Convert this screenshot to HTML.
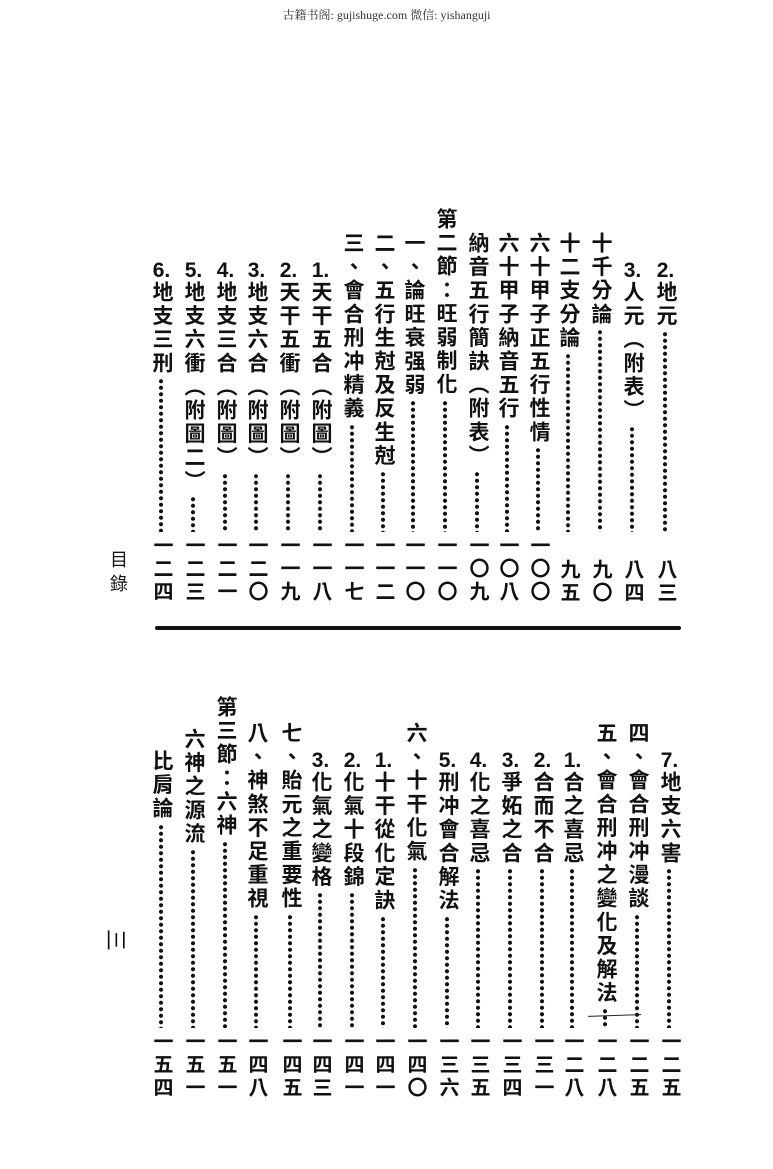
<!DOCTYPE html>
<html><head><meta charset="utf-8">
<style>
html,body{margin:0;padding:0;background:#fff;}
body{width:773px;height:1169px;position:relative;overflow:hidden;font-family:"Liberation Sans","Noto Sans CJK TC","Noto Sans CJK SC",sans-serif;color:#111;}
.hdr{position:absolute;top:6px;left:0;width:773px;text-align:center;font-size:12px;color:#333;font-family:"Liberation Serif","Noto Serif CJK SC",serif;}
.c{position:absolute;width:26px;margin-left:-13px;display:flex;flex-direction:column;align-items:center;}
.t{writing-mode:vertical-rl;font-size:21px;line-height:26px;letter-spacing:2.6px;font-weight:bold;white-space:nowrap;}
.u{text-combine-upright:all;}
.d{flex:1;width:6px;margin-top:3px;background:radial-gradient(circle,#111 1.8px,transparent 2.3px) center top/6px 6.5px repeat-y;}
.n{position:absolute;writing-mode:vertical-rl;font-size:20px;line-height:26px;letter-spacing:3px;width:26px;margin-left:-13px;font-weight:bold;}
</style></head><body>
<div class="hdr">古籍书阁: gujishuge.com 微信: yishanguji</div>

<!-- upper block -->
<div class="c" style="left:665px;top:260px;height:272px"><div class="t"><span class="u">2.</span>地元</div><div class="d"></div></div>
<div class="n" style="left:665px;top:559px">八三</div>
<div class="c" style="left:632px;top:260px;height:272px"><div class="t"><span class="u">3.</span>人元（附表）</div><div class="d"></div></div>
<div class="n" style="left:632px;top:559px">八四</div>
<div class="c" style="left:600px;top:232px;height:300px"><div class="t">十千分論</div><div class="d"></div></div>
<div class="n" style="left:600px;top:559px">九〇</div>
<div class="c" style="left:568px;top:232px;height:300px"><div class="t">十二支分論</div><div class="d"></div></div>
<div class="n" style="left:568px;top:559px">九五</div>
<div class="c" style="left:538px;top:232px;height:300px"><div class="t">六十甲子正五行性情</div><div class="d"></div></div>
<div class="n" style="left:538px;top:535px">一〇〇</div>
<div class="c" style="left:507px;top:232px;height:300px"><div class="t">六十甲子納音五行</div><div class="d"></div></div>
<div class="n" style="left:507px;top:535px">一〇八</div>
<div class="c" style="left:477px;top:232px;height:300px"><div class="t">納音五行簡訣（附表）</div><div class="d"></div></div>
<div class="n" style="left:477px;top:535px">一〇九</div>
<div class="c" style="left:445px;top:208px;height:324px"><div class="t">第二節：旺弱制化</div><div class="d"></div></div>
<div class="n" style="left:445px;top:535px">一一〇</div>
<div class="c" style="left:413px;top:232px;height:300px"><div class="t">一、論旺衰强弱</div><div class="d"></div></div>
<div class="n" style="left:413px;top:535px">一一〇</div>
<div class="c" style="left:383px;top:232px;height:300px"><div class="t">二、五行生尅及反生尅</div><div class="d"></div></div>
<div class="n" style="left:383px;top:535px">一一二</div>
<div class="c" style="left:352px;top:232px;height:300px"><div class="t">三、會合刑冲精義</div><div class="d"></div></div>
<div class="n" style="left:352px;top:535px">一一七</div>
<div class="c" style="left:320px;top:260px;height:272px"><div class="t"><span class="u">1.</span>天干五合（附圖）</div><div class="d"></div></div>
<div class="n" style="left:320px;top:535px">一一八</div>
<div class="c" style="left:288px;top:260px;height:272px"><div class="t"><span class="u">2.</span>天干五衝（附圖）</div><div class="d"></div></div>
<div class="n" style="left:288px;top:535px">一一九</div>
<div class="c" style="left:256px;top:260px;height:272px"><div class="t"><span class="u">3.</span>地支六合（附圖）</div><div class="d"></div></div>
<div class="n" style="left:256px;top:535px">一二〇</div>
<div class="c" style="left:225px;top:260px;height:272px"><div class="t"><span class="u">4.</span>地支三合（附圖）</div><div class="d"></div></div>
<div class="n" style="left:225px;top:535px">一二一</div>
<div class="c" style="left:193px;top:260px;height:272px"><div class="t"><span class="u">5.</span>地支六衝（附圖二）</div><div class="d"></div></div>
<div class="n" style="left:193px;top:535px">一二三</div>
<div class="c" style="left:161px;top:260px;height:272px"><div class="t"><span class="u">6.</span>地支三刑</div><div class="d"></div></div>
<div class="n" style="left:161px;top:535px">一二四</div>

<div style="position:absolute;left:106px;top:550px;writing-mode:vertical-rl;font-size:18px;line-height:24px;letter-spacing:6px;">目錄</div>
<div style="position:absolute;left:155px;top:626px;width:526px;height:4px;background:#111;border-radius:2px;"></div>

<!-- lower block -->
<div class="c" style="left:669px;top:750px;height:278px"><div class="t"><span class="u">7.</span>地支六害</div><div class="d"></div></div>
<div class="n" style="left:669px;top:1031px">一二五</div>
<div class="c" style="left:637px;top:722px;height:306px"><div class="t">四、會合刑冲漫談</div><div class="d"></div></div>
<div class="n" style="left:637px;top:1031px">一二五</div>
<div class="c" style="left:605px;top:722px;height:306px"><div class="t">五、會合刑冲之變化及解法</div><div class="d"></div></div>
<div class="n" style="left:605px;top:1031px">一二八</div>
<div style="position:absolute;left:588px;top:1015px;width:53px;height:1px;background:#222;transform:rotate(-2deg);"></div>
<div class="c" style="left:572px;top:750px;height:278px"><div class="t"><span class="u">1.</span>合之喜忌</div><div class="d"></div></div>
<div class="n" style="left:572px;top:1031px">一二八</div>
<div class="c" style="left:542px;top:750px;height:278px"><div class="t"><span class="u">2.</span>合而不合</div><div class="d"></div></div>
<div class="n" style="left:542px;top:1031px">一三一</div>
<div class="c" style="left:510px;top:750px;height:278px"><div class="t"><span class="u">3.</span>爭妬之合</div><div class="d"></div></div>
<div class="n" style="left:510px;top:1031px">一三四</div>
<div class="c" style="left:478px;top:750px;height:278px"><div class="t"><span class="u">4.</span>化之喜忌</div><div class="d"></div></div>
<div class="n" style="left:478px;top:1031px">一三五</div>
<div class="c" style="left:447px;top:750px;height:278px"><div class="t"><span class="u">5.</span>刑冲會合解法</div><div class="d"></div></div>
<div class="n" style="left:447px;top:1031px">一三六</div>
<div class="c" style="left:415px;top:722px;height:306px"><div class="t">六、十干化氣</div><div class="d"></div></div>
<div class="n" style="left:415px;top:1031px">一四〇</div>
<div class="c" style="left:383px;top:750px;height:278px"><div class="t"><span class="u">1.</span>十干從化定訣</div><div class="d"></div></div>
<div class="n" style="left:383px;top:1031px">一四一</div>
<div class="c" style="left:352px;top:750px;height:278px"><div class="t"><span class="u">2.</span>化氣十段錦</div><div class="d"></div></div>
<div class="n" style="left:352px;top:1031px">一四一</div>
<div class="c" style="left:320px;top:750px;height:278px"><div class="t"><span class="u">3.</span>化氣之變格</div><div class="d"></div></div>
<div class="n" style="left:320px;top:1031px">一四三</div>
<div class="c" style="left:290px;top:722px;height:306px"><div class="t">七、貽元之重要性</div><div class="d"></div></div>
<div class="n" style="left:290px;top:1031px">一四五</div>
<div class="c" style="left:256px;top:722px;height:306px"><div class="t">八、神煞不足重視</div><div class="d"></div></div>
<div class="n" style="left:256px;top:1031px">一四八</div>
<div class="c" style="left:225px;top:696px;height:332px"><div class="t">第三節：六神</div><div class="d"></div></div>
<div class="n" style="left:225px;top:1031px">一五一</div>
<div class="c" style="left:193px;top:728px;height:300px"><div class="t">六神之源流</div><div class="d"></div></div>
<div class="n" style="left:193px;top:1031px">一五一</div>
<div class="c" style="left:161px;top:750px;height:278px"><div class="t">比肩論</div><div class="d"></div></div>
<div class="n" style="left:161px;top:1031px">一五四</div>

<div style="position:absolute;left:104px;top:928px;font-size:22px;line-height:24px;transform:rotate(90deg);">三</div>
</body></html>
